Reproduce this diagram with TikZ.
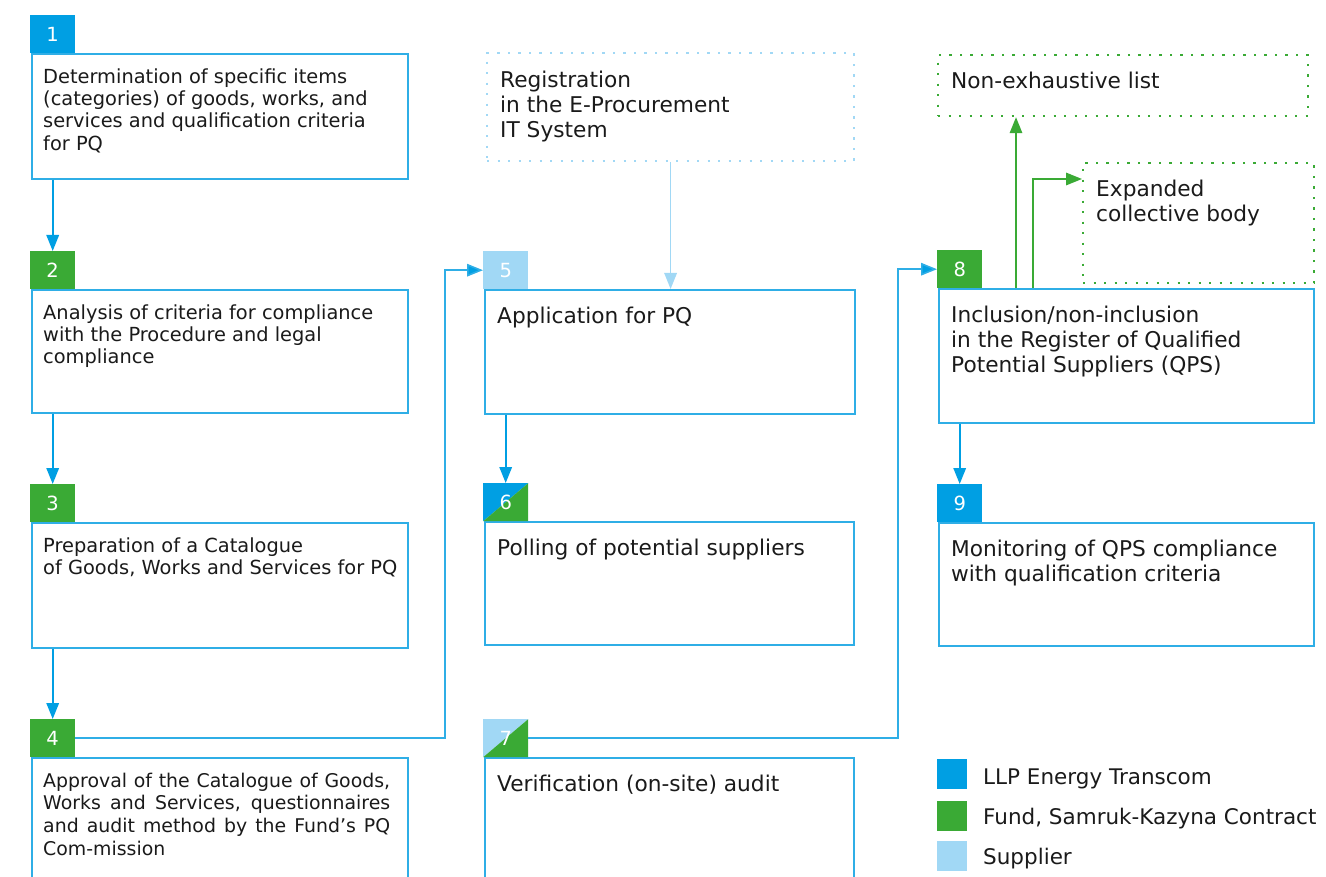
\documentclass[tikz,border=0pt]{standalone}
\usepackage{fontspec}
\setmainfont{DejaVu Sans}
\usetikzlibrary{arrows.meta}
\definecolor{cblue}{HTML}{009FE3}
\definecolor{cgreen}{HTML}{3AAA35}
\definecolor{clight}{HTML}{A1D8F5}
\definecolor{cborder}{HTML}{2FAEE6}
\definecolor{ctext}{HTML}{1A1A1A}
\begin{document}
\begin{tikzpicture}[x=1pt,y=-1pt,
  box/.style args={#1x#2}{draw=cborder, line width=1.6pt, anchor=north west, inner sep=0pt, minimum width=#1pt, minimum height=#2pt},
  dotbox/.style args={#1x#2}{draw=#1, line width=2.2pt, dash pattern=on 2.2pt off 8.3pt, anchor=north west, inner sep=0pt, minimum width=#2pt},
  badge/.style={anchor=north west, inner sep=0pt, minimum width=45pt, minimum height=38pt, text=white, font=\fontsize{19.5}{19.5}\selectfont},
  splitbadge/.style={badge, path picture={
     \fill[#1] (path picture bounding box.north west) -- (path picture bounding box.north east) -- (path picture bounding box.south west) -- cycle;
     \fill[cgreen] (path picture bounding box.north east) -- (path picture bounding box.south east) -- (path picture bounding box.south west) -- cycle;}},
  smalltext/.style={anchor=north west, inner sep=0pt, align=left, text=ctext, font=\fontsize{19.4}{22.4}\selectfont},
  bigtext/.style={anchor=north west, inner sep=0pt, align=left, text=ctext, font=\fontsize{21.7}{25.3}\selectfont},
  legtext/.style={anchor=base west, inner sep=0pt, text=ctext, font=\fontsize{21.5}{25}\selectfont},
  legsq/.style={anchor=north west, inner sep=0pt, minimum size=30pt, fill=#1},
  arr/.style={draw=#1, line width=1.6pt, -{Triangle[length=16pt,width=12.5pt]}},
  link/.style={draw=cborder, line width=1.6pt, -{Triangle[length=16pt,width=12.5pt,fill=cblue]}}
]
\useasboundingbox (0,0) rectangle (1326,877);
\clip (0,0) rectangle (1326,877);
\newcommand{\fa}{\rule{0pt}{16pt}}
\newcommand{\fb}{\rule{0pt}{18pt}}

% column 1
\node[box=376x125] (b1) at (31,53) {};
\node[badge, fill=cblue] (n1) at (30,15) {1};
\node[smalltext] (t1) at (43,67) {\fa Determination of specific items\\(categories) of goods, works, and\\services and qualification criteria\\for PQ};

\node[box=376x123] (b2) at (31,289) {};
\node[badge, fill=cgreen] (n2) at (30,251) {2};
\node[smalltext] (t2) at (43,303) {\fa Analysis of criteria for compliance\\with the Procedure and legal\\compliance};

\node[box=376x125] (b3) at (31,522) {};
\node[badge, fill=cgreen] (n3) at (30,484) {3};
\node[smalltext] (t3) at (43,536) {\fa Preparation of a Catalogue\\of Goods, Works and Services for PQ};

\node[box=376x140] (b4) at (31,757) {};
\node[badge, fill=cgreen] (n4) at (30,719) {4};
\node[smalltext, font=\fontsize{18.9}{22.6}\selectfont] (t4) at (43,771) {\fa\makebox[347pt][s]{Approval of the Catalogue of Goods,}\\\makebox[347pt][s]{Works and Services, questionnaires}\\\makebox[347pt][s]{and audit method by the Fund’s PQ}\\Com-mission};

% column 2
\node[dotbox={clight}x367, minimum height=108pt] (reg) at (486,52) {};
\node[bigtext] (treg) at (500,69) {\fb Registration\\in the E-Procurement\\IT System};

\node[box=370x124] (b5) at (484,289) {};
\node[badge, fill=clight] (n5) at (483,251) {5};
\node[bigtext] (t5) at (497,305) {\fb Application for PQ};

\node[box=369x123] (b6) at (484,521) {};
\node[splitbadge=cblue] (n6) at (483,483) {6};
\node[bigtext] (t6) at (497,537) {\fb Polling of potential suppliers};

\node[box=369x140] (b7) at (484,757) {};
\node[splitbadge=clight] (n7) at (483,719) {7};
\node[bigtext] (t7) at (497,773) {\fb Verification (on-site) audit};

% column 3
\node[dotbox={cgreen}x370, minimum height=61pt] (ne) at (937,54) {};
\node[bigtext] (tne) at (951,70) {\fb Non-exhaustive list};

\node[dotbox={cgreen}x231, minimum height=120pt] (ex) at (1082,162) {};
\node[bigtext] (tex) at (1096,178) {\fb Expanded\\collective body};

\node[box=375x134] (b8) at (938,288) {};
\node[badge, fill=cgreen] (n8) at (937,250) {8};
\node[bigtext] (t8) at (951,304) {\fb Inclusion/non-inclusion\\in the Register of Qualified\\Potential Suppliers (QPS)};

\node[box=375x123] (b9) at (938,522) {};
\node[badge, fill=cblue] (n9) at (937,484) {9};
\node[bigtext] (t9) at (951,538) {\fb Monitoring of QPS compliance\\with qualification criteria};

% legend
\node[legsq=cblue] (l1) at (937,759) {};
\node[legtext] (lt1) at (983,784) {LLP Energy Transcom};
\node[legsq=cgreen] (l2) at (937,801) {};
\node[legtext] (lt2) at (983,824) {Fund, Samruk-Kazyna Contract};
\node[legsq=clight] (l3) at (937,841) {};
\node[legtext] (lt3) at (983,864) {Supplier};

% connectors
\draw[arr=cblue] (n1 |- b1.south) -- (n2.north);
\draw[arr=cblue] (n2 |- b2.south) -- (n3.north);
\draw[arr=cblue] (n3 |- b3.south) -- (n4.north);
\draw[arr=cblue] (n5 |- b5.south) -- (n6.north);
\draw[arr=cblue] (n8 |- b8.south) -- (n9.north);
\draw[arr=clight] (reg.south) -- (reg.south |- b5.north);

\coordinate (c45) at (445,0);
\draw[link] (n4.east) -- (n4.east -| c45) -- (c45 |- n5.west) -- (n5.west);
\coordinate (c78) at (898,0);
\draw[link] (n7.east) -- (n7.east -| c78) -- (c78 |- n8.west) -- (n8.west);

\coordinate (g1) at (1016,0);
\draw[arr=cgreen] (g1 |- b8.north) -- (g1 |- ne.south);
\coordinate (g2) at (1033,179);
\draw[arr=cgreen] (g2 |- b8.north) -- (g2) -- (ex.west |- g2);
\end{tikzpicture}
\end{document}
